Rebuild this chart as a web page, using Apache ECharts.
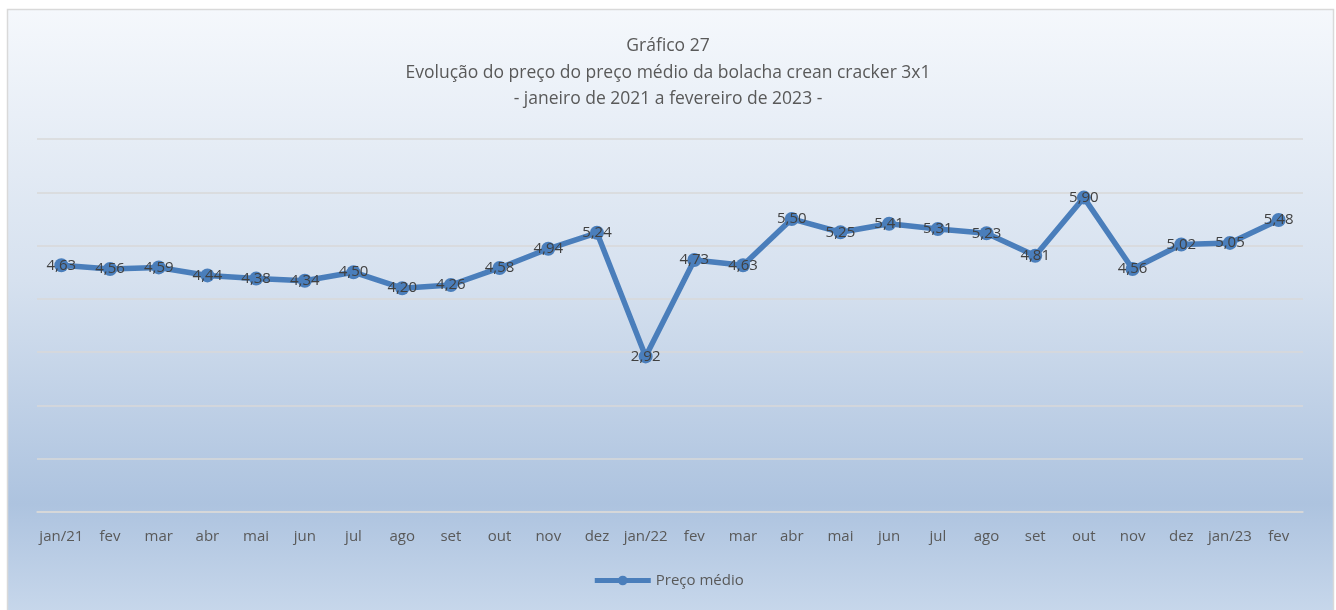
<!DOCTYPE html>
<html>
<head>
<meta charset="utf-8">
<script src="https://cdn.jsdelivr.net/npm/echarts@6/dist/echarts.min.js"></script>
<style>
html, body { margin: 0; padding: 0; background: #fff; }
#main { width: 1336px; height: 610px; }
</style>
</head>
<body>
<div id="main"></div>
<script>
var meses = ['jan/21', 'fev', 'mar', 'abr', 'mai', 'jun', 'jul', 'ago', 'set', 'out', 'nov', 'dez',
  'jan/22', 'fev', 'mar', 'abr', 'mai', 'jun', 'jul', 'ago', 'set', 'out', 'nov', 'dez', 'jan/23', 'fev'];
var precoMedio = [4.63, 4.56, 4.59, 4.44, 4.38, 4.34, 4.50, 4.20, 4.26, 4.58, 4.94, 5.24,
  2.92, 4.73, 4.63, 5.50, 5.25, 5.41, 5.31, 5.23, 4.81, 5.90, 4.56, 5.02, 5.05, 5.48];

var myChart = echarts.init(document.getElementById('main'));
var fonte = '"Open Sans", "Noto Sans", sans-serif';

var option = {
  animation: false,
  backgroundColor: '#ffffff',
  graphic: [{
    type: 'rect',
    z: -10,
    silent: true,
    shape: { x: 7.5, y: 9.5, width: 1326, height: 602 },
    style: {
      fill: new echarts.graphic.LinearGradient(0, 0, 0, 1, [
        { offset: 0, color: '#f5f8fc' },
        { offset: 0.45, color: '#d6e1ef' },
        { offset: 0.82, color: '#adc3df' },
        { offset: 1, color: '#c7d7eb' }
      ]),
      stroke: '#d9d9d9',
      lineWidth: 1.5
    }
  }],
  title: {
    text: 'Gráfico 27\nEvolução do preço do preço médio da bolacha crean cracker 3x1\n- janeiro de 2021 a fevereiro de 2023 -',
    left: 'center',
    top: 28,
    textStyle: {
      fontFamily: fonte,
      fontSize: 17.5,
      fontWeight: 'normal',
      color: '#595959',
      lineHeight: 26.5
    }
  },
  legend: {
    bottom: 17,
    left: 'center',
    itemWidth: 56,
    itemHeight: 12,
    data: ['Preço médio'],
    lineStyle: { width: 5 },
    textStyle: { fontFamily: fonte, fontSize: 15, color: '#595959' }
  },
  grid: {
    left: 37,
    right: 33,
    top: 139,
    bottom: 98
  },
  xAxis: {
    type: 'category',
    data: meses,
    boundaryGap: true,
    axisLine: { show: true, lineStyle: { color: '#d9d9d9', width: 1.5 } },
    axisTick: { show: false },
    axisLabel: {
      fontFamily: fonte,
      fontSize: 15,
      color: '#595959',
      margin: 17,
      interval: 0
    }
  },
  yAxis: {
    type: 'value',
    min: 0,
    max: 7,
    interval: 1,
    axisLine: { show: false },
    axisTick: { show: false },
    axisLabel: { show: false },
    splitLine: { lineStyle: { color: '#d9d9d9', width: 1.5 } }
  },
  series: [{
    name: 'Preço médio',
    type: 'line',
    data: precoMedio,
    symbol: 'circle',
    symbolSize: 14,
    itemStyle: { color: '#4a7ebb' },
    lineStyle: { color: '#4a7ebb', width: 5.5 },
    label: {
      show: true,
      position: 'inside',
      fontFamily: fonte,
      fontSize: 15,
      color: '#404040',
      formatter: function (p) {
        return p.value.toFixed(2).replace('.', ',');
      }
    }
  }]
};

myChart.setOption(option);
</script>
</body>
</html>
